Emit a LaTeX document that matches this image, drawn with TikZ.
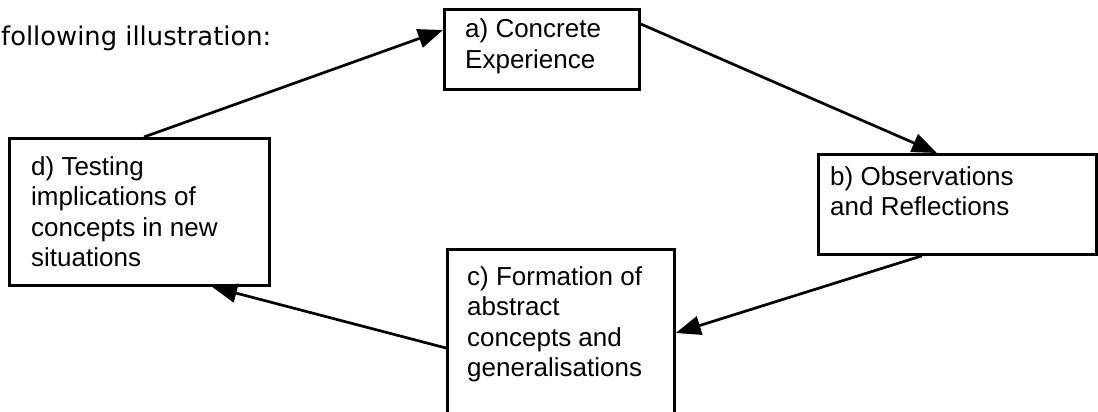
\documentclass[tikz,border=0pt]{standalone}
\usepackage{fontspec}
\setmainfont{Liberation Sans}
\newfontfamily\introfont{DejaVu Sans}
\usetikzlibrary{arrows.meta,calc}
\begin{document}
\begin{tikzpicture}[x=1pt,y=-1pt,
  box/.style={draw, line width=2.8pt, inner sep=0pt, anchor=north west},
  boxtext/.style={font=\fontsize{26}{30.6}\selectfont, anchor=base west, inner sep=0pt},
  flow/.style={line width=2.7pt, -{Triangle[length=25pt,width=19pt]}}]
\clip (0,0) rectangle (1098,412);
\fill[white] (0,0) rectangle (1098,412);
\node[anchor=base west, inner sep=0pt, font=\introfont\fontsize{25.8}{30}\selectfont] (intro) at (1,46) {following illustration:};
\node[box, minimum width=195pt, minimum height=80pt] (a) at (443,8) {};
\node[box, minimum width=278pt, minimum height=100pt] (b) at (817,153) {};
\node[box, minimum width=227pt, minimum height=185pt] (c) at (446,248) {};
\node[box, minimum width=260pt, minimum height=147pt] (d) at (8,137) {};
\node[boxtext] (ta) at (465,38) {\vtop{\hbox{a) Concrete}\hbox{Experience}}};
\node[boxtext] (tb) at (830,185) {\vtop{\hbox{b) Observations}\hbox{and Reflections}}};
\node[boxtext] (tc) at (467,285) {\vtop{\hbox{c) Formation of}\hbox{abstract}\hbox{concepts and}\hbox{generalisations}}};
\node[boxtext] (td) at (31,175) {\vtop{\hbox{d) Testing}\hbox{implications of}\hbox{concepts in new}\hbox{situations}}};
\draw[flow] ([xshift=136pt]d.north west) -- ([yshift=-22pt]a.north west);
\draw[flow] ([yshift=-16pt]a.north east) -- ([xshift=120pt]b.north west);
\draw[flow] ([xshift=105pt]b.south west) -- ([yshift=-85pt]c.north east);
\draw[flow] ([yshift=-100pt]c.north west) -- ([xshift=204pt]d.south west);
\end{tikzpicture}
\end{document}
